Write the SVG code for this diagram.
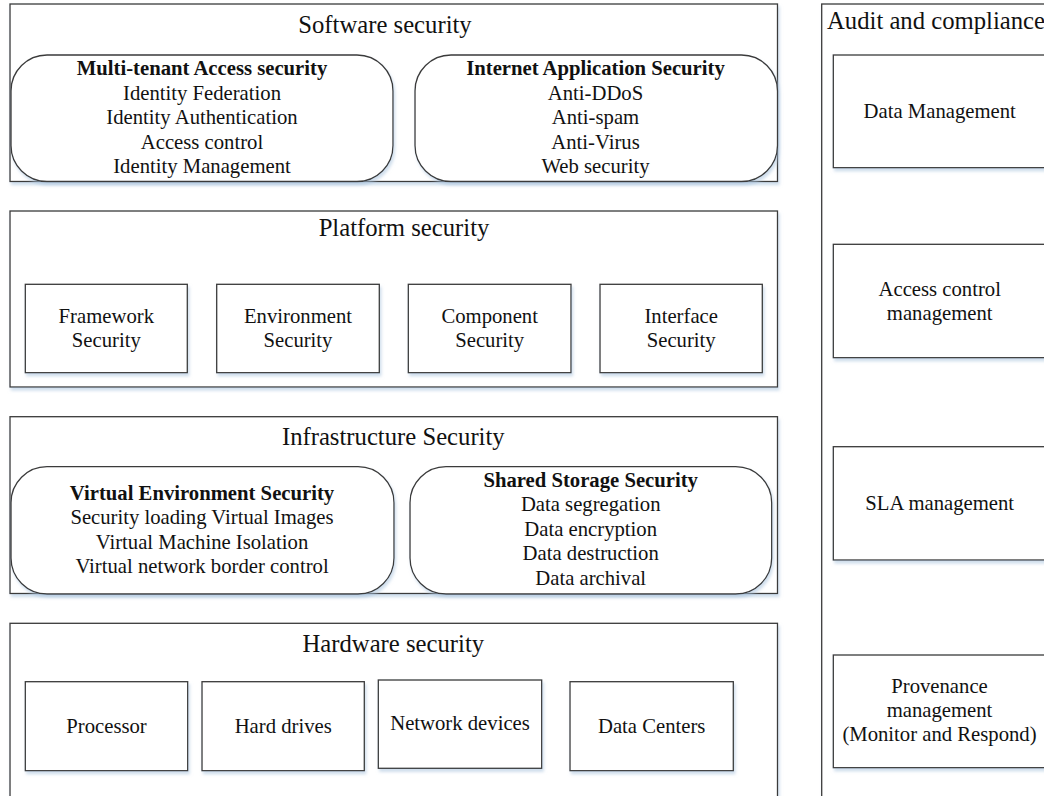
<svg xmlns="http://www.w3.org/2000/svg" width="1044" height="796" viewBox="0 0 1044 796">
<defs>
<filter id="sh" x="-5%" y="-5%" width="115%" height="125%">
<feDropShadow dx="1.5" dy="3" stdDeviation="1.5" flood-color="#a9c2dd" flood-opacity="0.55"/>
</filter>
<style>
.box{fill:#fff;stroke:#3a3a3a;stroke-width:1.3;filter:url(#sh)}
.t{font-family:"Liberation Serif","Times New Roman",serif;font-size:24.7px;fill:#111;text-anchor:middle}
.b{font-family:"Liberation Serif","Times New Roman",serif;font-size:20.7px;fill:#111;text-anchor:middle}
.bb{font-weight:bold}
</style>
</defs>
<rect width="1044" height="796" fill="#fff"/>

<g id="audit">
<rect class="box" x="821.7" y="4" width="240" height="820"/>
<text class="t" x="827" y="28.5" style="text-anchor:start">Audit and compliance</text>
</g>
<g id="data-management">
<rect class="box" x="833.3" y="55" width="213" height="112.7"/>
<text class="b" x="939.7" y="117.5">Data Management</text>
</g>
<g id="access-control-management">
<rect class="box" x="833.3" y="244.3" width="213" height="113.4"/>
<text class="b" x="939.7" y="296">Access control</text>
<text class="b" x="939.7" y="319.5">management</text>
</g>
<g id="sla-management">
<rect class="box" x="833.3" y="446.7" width="213" height="113.3"/>
<text class="b" x="939.7" y="510">SLA management</text>
</g>
<g id="provenance-management">
<rect class="box" x="833.3" y="655" width="213" height="112.7"/>
<text class="b" x="939.5" y="693">Provenance</text>
<text class="b" x="939.5" y="717">management</text>
<text class="b" x="939.5" y="741">(Monitor and Respond)</text>
</g>

<g id="software-security">
<rect class="box" x="10" y="4" width="767.5" height="177.5"/>
<text class="t" x="385" y="33">Software security</text>
</g>
<g id="multi-tenant-access-security">
<rect class="box" x="11" y="55" width="382" height="126.5" rx="36" ry="36"/>
<text class="b bb" x="202" y="75">Multi-tenant Access security</text>
<text class="b" x="202" y="99.5">Identity Federation</text>
<text class="b" x="202" y="124">Identity Authentication</text>
<text class="b" x="202" y="148.5">Access control</text>
<text class="b" x="202" y="173">Identity Management</text>
</g>
<g id="internet-application-security">
<rect class="box" x="415" y="55" width="362.5" height="126.5" rx="36" ry="36"/>
<text class="b bb" x="595.5" y="75">Internet Application Security</text>
<text class="b" x="595.5" y="99.5">Anti-DDoS</text>
<text class="b" x="595.5" y="124">Anti-spam</text>
<text class="b" x="595.5" y="148.5">Anti-Virus</text>
<text class="b" x="595.5" y="173">Web security</text>
</g>

<g id="platform-security">
<rect class="box" x="10" y="211" width="767.5" height="176"/>
<text class="t" x="404" y="236">Platform security</text>
</g>
<g id="framework-security">
<rect class="box" x="25.3" y="284.3" width="162" height="88.4"/>
<text class="b" x="106.3" y="322.5">Framework</text>
<text class="b" x="106.3" y="347">Security</text>
</g>
<g id="environment-security">
<rect class="box" x="216.7" y="284.3" width="162.6" height="88.4"/>
<text class="b" x="298" y="322.5">Environment</text>
<text class="b" x="298" y="347">Security</text>
</g>
<g id="component-security">
<rect class="box" x="408.3" y="284.3" width="162.7" height="88.4"/>
<text class="b" x="489.7" y="322.5">Component</text>
<text class="b" x="489.7" y="347">Security</text>
</g>
<g id="interface-security">
<rect class="box" x="600" y="284.3" width="162.3" height="88.4"/>
<text class="b" x="681.2" y="322.5">Interface</text>
<text class="b" x="681.2" y="347">Security</text>
</g>

<g id="infrastructure-security">
<rect class="box" x="10" y="416.7" width="767.5" height="176.8"/>
<text class="t" x="393.3" y="445">Infrastructure Security</text>
</g>
<g id="virtual-environment-security">
<rect class="box" x="11" y="466.7" width="383" height="127.3" rx="36" ry="36"/>
<text class="b bb" x="202" y="500">Virtual Environment Security</text>
<text class="b" x="202" y="524">Security loading Virtual Images</text>
<text class="b" x="202" y="548.5">Virtual Machine Isolation</text>
<text class="b" x="202" y="573">Virtual network border control</text>
</g>
<g id="shared-storage-security">
<rect class="box" x="410" y="466.7" width="361.7" height="127.3" rx="36" ry="36"/>
<text class="b bb" x="590.7" y="486.5">Shared Storage Security</text>
<text class="b" x="590.7" y="511">Data segregation</text>
<text class="b" x="590.7" y="535.5">Data encryption</text>
<text class="b" x="590.7" y="560">Data destruction</text>
<text class="b" x="590.7" y="584.5">Data archival</text>
</g>

<g id="hardware-security">
<rect class="box" x="10" y="623.3" width="767.5" height="200"/>
<text class="t" x="393.3" y="651.5">Hardware security</text>
</g>
<g id="processor">
<rect class="box" x="25.3" y="681.7" width="162.4" height="89"/>
<text class="b" x="106.5" y="733.3">Processor</text>
</g>
<g id="hard-drives">
<rect class="box" x="202" y="681.7" width="162.3" height="89"/>
<text class="b" x="283.2" y="733.3">Hard drives</text>
</g>
<g id="network-devices">
<rect class="box" x="378.3" y="680" width="163.4" height="88.3"/>
<text class="b" x="460" y="730">Network devices</text>
</g>
<g id="data-centers">
<rect class="box" x="570" y="681.7" width="163.3" height="89"/>
<text class="b" x="651.7" y="733.3">Data Centers</text>
</g>

<g id="connectors"></g>
</svg>
